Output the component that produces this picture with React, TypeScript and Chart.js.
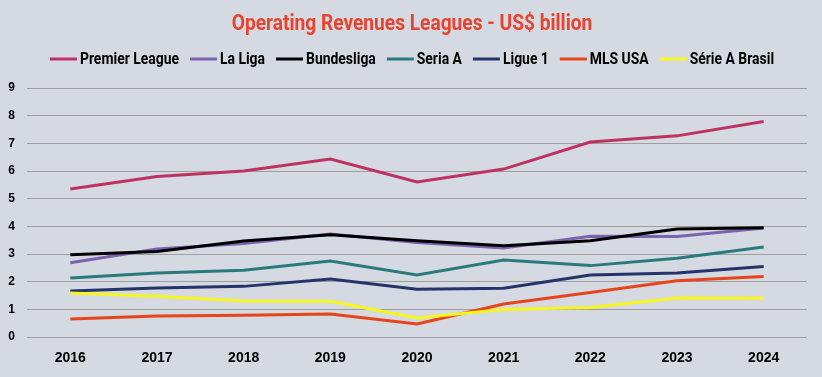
import React, { useEffect, useRef } from "react";
import { Chart, registerables } from "chart.js";

Chart.register(...registerables);

const years = ["2016", "2017", "2018", "2019", "2020", "2021", "2022", "2023", "2024"];
const premierLeague = [5.35, 5.8, 6.0, 6.43, 5.6, 6.07, 7.05, 7.27, 7.79];
const laLiga = [2.68, 3.18, 3.38, 3.72, 3.42, 3.22, 3.64, 3.63, 3.94];
const bundesliga = [2.97, 3.09, 3.47, 3.7, 3.48, 3.3, 3.48, 3.9, 3.95];
const serieA = [2.13, 2.31, 2.41, 2.75, 2.24, 2.78, 2.58, 2.85, 3.25];
const ligue1 = [1.66, 1.77, 1.83, 2.1, 1.73, 1.76, 2.24, 2.31, 2.55];
const mls = [0.65, 0.76, 0.79, 0.83, 0.47, 1.19, 1.61, 2.03, 2.19];
const brasil = [1.59, 1.47, 1.3, 1.29, 0.69, 0.99, 1.07, 1.41, 1.4];

const seriesNames = ["Premier League", "La Liga", "Bundesliga", "Seria A", "Ligue 1", "MLS USA", "Série A Brasil"];
const seriesValues = [premierLeague, laLiga, bundesliga, serieA, ligue1, mls, brasil];
const seriesColors = ["#be3262", "#7b63ae", "#000000", "#2b7a7b", "#24346a", "#e8441c", "#f6f61e"];

const titleText = "Operating Revenues Leagues - US$ billion";
const fontFam = "Roboto, 'Liberation Sans', sans-serif";

export default function App() {
  const ref = useRef<HTMLCanvasElement | null>(null);
  useEffect(() => {
    document.body.style.margin = "0";
    const bg = {
      id: "bg",
      beforeDraw(chart: any) {
        const c = chart.ctx;
        c.save();
        c.fillStyle = "#d5d9e1";
        c.fillRect(0, 0, chart.width, chart.height);
        c.restore();
      },
    };
    // Condensed title + legend drawn from the chart's own dataset labels/colours
    const header = {
      id: "header",
      afterDraw(chart: any) {
        const c = chart.ctx;
        const cx = chart.width / 2;
        c.save();
        // title
        const tScale = 0.87;
        c.font = `bold 22px ${fontFam}`;
        c.fillStyle = "#e8432e";
        c.textBaseline = "middle";
        c.textAlign = "center";
        c.save();
        c.translate(cx + 1, 24);
        c.scale(tScale, 1);
        c.fillText(chart.options.plugins.title.text, 0, 0);
        c.restore();
        // legend
        const lScale = 0.87;
        const sw = 27;
        const gap = 3;
        const itemGap = 11;
        c.font = `bold 16px ${fontFam}`;
        c.textAlign = "left";
        const ds = chart.data.datasets;
        const widths = ds.map((d: any) => c.measureText(d.label).width * lScale);
        const total = widths.reduce((a: number, w: number) => a + sw + gap + w, 0) + itemGap * (ds.length - 1);
        let x = cx + 1 - total / 2;
        const y = 59;
        ds.forEach((d: any, i: number) => {
          c.strokeStyle = d.borderColor;
          c.lineWidth = 3;
          c.beginPath();
          c.moveTo(x, y);
          c.lineTo(x + sw, y);
          c.stroke();
          c.fillStyle = "#000000";
          c.save();
          c.translate(x + sw + gap, y + 1);
          c.scale(lScale, 1);
          c.fillText(d.label, 0, 0);
          c.restore();
          x += sw + gap + widths[i] + itemGap;
        });
        c.restore();
      },
    };
    const chart = new Chart(ref.current!, {
      type: "line",
      data: {
        labels: years,
        datasets: seriesNames.map((n, i) => ({
          label: n,
          data: seriesValues[i],
          borderColor: seriesColors[i],
          backgroundColor: seriesColors[i],
          borderWidth: 3,
          pointRadius: 0,
          tension: 0,
          order: seriesNames.length - i,
        })),
      },
      options: {
        animation: false,
        responsive: false,
        layout: { padding: { left: 1, right: 15, top: 88, bottom: 0 } },
        plugins: {
          title: { display: false, text: titleText },
          legend: { display: false },
          tooltip: { enabled: false },
        },
        scales: {
          x: {
            offset: true,
            grid: { display: false },
            border: { display: false },
            afterFit: (axis: any) => {
              axis.height = 40;
            },
            ticks: {
              color: "#000000",
              font: { family: "'Liberation Sans', Arial, sans-serif", size: 14, weight: "bold" },
              padding: 5,
            },
          },
          y: {
            min: 0,
            max: 9,
            grid: { color: "#9e9e9e", lineWidth: 1, drawTicks: false },
            border: { display: false },
            afterFit: (axis: any) => {
              axis.width = 26;
            },
            ticks: {
              stepSize: 1,
              color: "#000000",
              font: { family: "'Liberation Sans', Arial, sans-serif", size: 12, weight: "bold" },
              padding: 12,
            },
          },
        },
      },
      plugins: [bg, header],
    } as any);
    return () => chart.destroy();
  }, []);
  return <canvas ref={ref} width={822} height={377} style={{ display: "block" }} />;
}
